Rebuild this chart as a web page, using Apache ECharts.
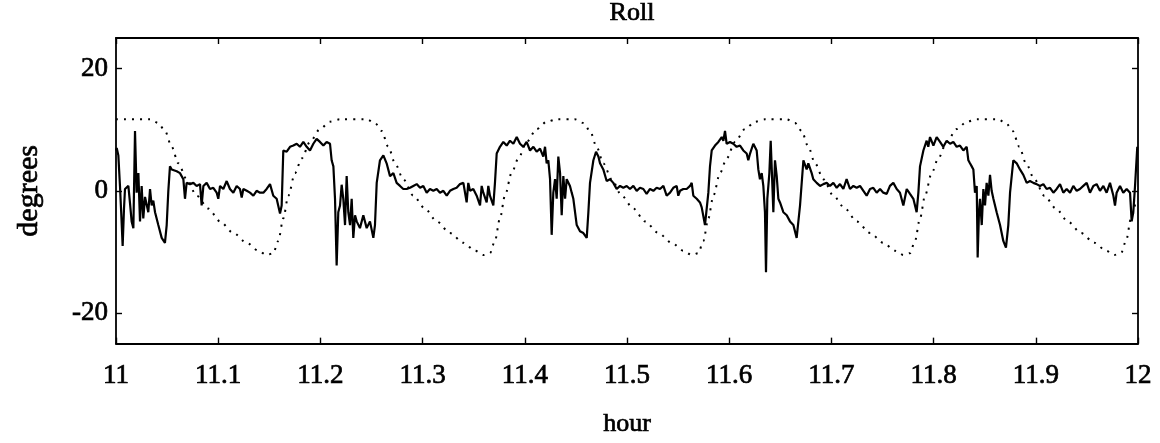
<!DOCTYPE html>
<html>
<head>
<meta charset="utf-8">
<title>Roll</title>
<script src="https://cdn.jsdelivr.net/npm/echarts@6/dist/echarts.min.js"></script>
<style>
  html, body { margin: 0; padding: 0; background: #fff; }
  #chart { width: 1160px; height: 443px; }
</style>
</head>
<body>
<div id="chart"></div>
<script>
// Measured roll angle [hour, degrees]
const rollMeasured = [
  [11.0000,6.6],[11.0007,7.0],[11.0023,5.8],[11.0039,0.8],[11.0052,-4.0],[11.0065,-9.0],[11.0078,-3.0],[11.0088,0.3],
  [11.0104,0.5],[11.0121,0.8],[11.0137,-2.0],[11.0153,-5.0],[11.0170,-6.1],[11.0186,9.8],[11.0202,-0.3],[11.0219,2.9],
  [11.0235,-5.0],[11.0251,0.8],[11.0267,-4.5],[11.0284,-1.0],[11.0300,-1.3],[11.0316,-3.5],[11.0333,0.3],[11.0349,-2.4],
  [11.0365,-1.6],[11.0382,-3.5],[11.0414,-5.6],[11.0447,-7.7],[11.0479,-8.5],[11.0496,-5.6],[11.0512,0.0],[11.0528,4.0],
  [11.0545,3.5],[11.0561,3.7],[11.0594,3.2],[11.0626,2.9],[11.0659,1.9],[11.0675,-1.3],[11.0691,1.3],[11.0724,1.1],
  [11.0757,1.3],[11.0789,0.8],[11.0822,1.1],[11.0838,-2.4],[11.0855,0.8],[11.0887,1.3],[11.0920,0.3],[11.0952,0.5],
  [11.0985,-0.3],[11.1001,-1.3],[11.1018,0.8],[11.1050,0.3],[11.1083,1.6],[11.1115,0.3],[11.1148,-0.3],[11.1181,0.8],
  [11.1213,0.3],[11.1230,-1.1],[11.1246,0.3],[11.1279,0.0],[11.1311,-0.3],[11.1344,-0.8],[11.1376,0.0],[11.1409,-0.3],
  [11.1442,-0.3],[11.1474,0.3],[11.1507,1.1],[11.1539,-0.8],[11.1572,-1.3],[11.1605,-3.7],[11.1621,-2.4],[11.1637,6.6],
  [11.1670,6.4],[11.1703,7.2],[11.1735,7.4],[11.1768,7.7],[11.1800,7.2],[11.1833,8.0],[11.1866,7.2],[11.1898,6.6],
  [11.1931,7.7],[11.1963,8.5],[11.1996,8.0],[11.2029,7.4],[11.2061,8.0],[11.2094,7.7],[11.2110,5.0],[11.2127,4.0],
  [11.2143,-1.3],[11.2159,-12.2],[11.2175,-3.5],[11.2192,-2.4],[11.2208,1.0],[11.2224,-1.3],[11.2241,-5.6],[11.2257,2.4],
  [11.2273,-3.5],[11.2290,-5.6],[11.2306,-1.3],[11.2322,-7.7],[11.2339,-4.0],[11.2355,-5.0],[11.2387,-6.1],[11.2420,-4.0],
  [11.2453,-6.1],[11.2485,-5.0],[11.2518,-7.7],[11.2534,-5.6],[11.2551,1.3],[11.2583,5.0],[11.2616,5.8],[11.2648,4.5],
  [11.2681,2.4],[11.2714,2.9],[11.2746,1.3],[11.2779,0.8],[11.2811,0.3],[11.2844,0.3],[11.2877,0.5],[11.2909,0.8],
  [11.2942,1.1],[11.2975,0.5],[11.3007,0.8],[11.3040,-0.3],[11.3072,0.3],[11.3105,0.0],[11.3138,0.3],[11.3170,-0.3],
  [11.3203,0.0],[11.3236,-0.8],[11.3268,0.0],[11.3301,0.3],[11.3333,0.5],[11.3366,1.1],[11.3399,1.3],[11.3431,-1.9],
  [11.3447,1.3],[11.3464,0.0],[11.3496,0.3],[11.3529,-0.8],[11.3562,-2.4],[11.3578,0.8],[11.3594,-0.3],[11.3627,-1.9],
  [11.3643,0.8],[11.3659,-0.8],[11.3692,-2.4],[11.3708,1.3],[11.3725,6.1],[11.3757,7.2],[11.3790,8.0],[11.3823,7.4],
  [11.3855,8.2],[11.3888,7.7],[11.3921,8.8],[11.3953,7.7],[11.3986,7.2],[11.4018,8.0],[11.4051,6.6],[11.4084,7.2],
  [11.4116,6.4],[11.4149,6.9],[11.4181,5.6],[11.4198,7.2],[11.4214,4.5],[11.4230,5.0],[11.4247,1.9],[11.4263,-7.2],
  [11.4279,-0.3],[11.4296,1.9],[11.4312,-1.3],[11.4328,5.6],[11.4345,2.9],[11.4361,-4.0],[11.4377,2.4],[11.4394,-1.3],
  [11.4410,1.9],[11.4442,0.8],[11.4459,-0.3],[11.4475,-1.3],[11.4508,-5.6],[11.4540,-6.6],[11.4573,-6.9],[11.4606,-7.7],
  [11.4622,-3.5],[11.4638,1.3],[11.4671,5.0],[11.4697,6.4],[11.4720,5.6],[11.4736,4.5],[11.4768,3.5],[11.4801,1.6],
  [11.4834,1.9],[11.4866,1.3],[11.4899,0.3],[11.4932,0.8],[11.4964,0.5],[11.4997,0.8],[11.5029,0.3],[11.5062,0.8],
  [11.5095,0.0],[11.5127,0.5],[11.5160,0.3],[11.5192,-0.5],[11.5225,0.3],[11.5258,0.0],[11.5290,0.5],[11.5323,0.3],
  [11.5356,0.8],[11.5388,-0.8],[11.5421,-0.3],[11.5453,0.5],[11.5486,0.8],[11.5502,-0.8],[11.5519,0.0],[11.5551,0.3],
  [11.5584,0.3],[11.5617,0.8],[11.5633,1.3],[11.5649,-0.8],[11.5682,-1.3],[11.5714,-1.9],[11.5731,-2.7],[11.5747,-2.4],
  [11.5763,-5.6],[11.5780,-5.8],[11.5796,-0.3],[11.5812,4.0],[11.5829,6.6],[11.5861,7.4],[11.5894,8.0],[11.5927,8.8],
  [11.5943,8.2],[11.5959,9.8],[11.5975,7.7],[11.6008,8.0],[11.6040,7.7],[11.6073,7.2],[11.6106,7.4],[11.6138,6.6],
  [11.6171,6.1],[11.6187,5.0],[11.6204,6.1],[11.6236,7.7],[11.6269,6.6],[11.6285,3.5],[11.6301,1.9],[11.6318,2.9],
  [11.6334,0.8],[11.6350,-3.5],[11.6360,-13.3],[11.6373,-1.3],[11.6393,2.9],[11.6406,8.2],[11.6419,2.4],[11.6432,-3.5],
  [11.6448,5.0],[11.6465,2.4],[11.6481,-1.3],[11.6497,-1.9],[11.6530,-3.5],[11.6563,-4.0],[11.6595,-5.0],[11.6628,-5.6],
  [11.6660,-7.7],[11.6693,-2.4],[11.6726,5.0],[11.6758,3.5],[11.6774,4.5],[11.6807,2.9],[11.6823,1.9],[11.6856,1.3],
  [11.6889,0.8],[11.6921,1.1],[11.6954,1.3],[11.6986,0.8],[11.7019,1.3],[11.7052,0.5],[11.7084,1.1],[11.7117,0.3],
  [11.7149,1.9],[11.7182,0.3],[11.7215,0.8],[11.7247,0.5],[11.7280,0.8],[11.7313,0.0],[11.7345,-0.8],[11.7378,0.3],
  [11.7410,0.5],[11.7443,-0.3],[11.7476,0.3],[11.7508,-0.3],[11.7541,-0.5],[11.7573,0.8],[11.7606,1.3],[11.7639,0.3],
  [11.7671,-0.3],[11.7704,-2.4],[11.7737,0.3],[11.7769,-0.5],[11.7802,-1.3],[11.7834,-3.5],[11.7851,-0.3],[11.7867,4.0],
  [11.7900,6.6],[11.7932,8.2],[11.7948,7.2],[11.7965,8.8],[11.7998,7.4],[11.8030,8.8],[11.8063,8.0],[11.8095,7.2],
  [11.8128,8.2],[11.8161,7.7],[11.8193,8.0],[11.8226,7.2],[11.8258,7.4],[11.8291,6.6],[11.8324,7.2],[11.8340,5.0],
  [11.8356,4.5],[11.8373,4.0],[11.8389,3.5],[11.8405,-0.3],[11.8422,0.8],[11.8431,-10.9],[11.8444,-3.5],[11.8454,-1.3],
  [11.8471,-5.6],[11.8487,0.3],[11.8503,-2.4],[11.8519,1.3],[11.8536,-0.8],[11.8552,2.6],[11.8568,0.0],[11.8585,-1.3],
  [11.8617,-3.5],[11.8650,-5.6],[11.8682,-8.2],[11.8708,-9.3],[11.8731,-5.6],[11.8748,-0.3],[11.8780,5.0],[11.8813,4.5],
  [11.8845,3.5],[11.8878,2.6],[11.8911,1.3],[11.8943,1.6],[11.8976,1.3],[11.9008,1.1],[11.9041,0.8],[11.9074,1.1],
  [11.9106,0.3],[11.9139,0.5],[11.9172,-0.3],[11.9204,0.3],[11.9237,1.1],[11.9269,-0.3],[11.9302,0.3],[11.9335,-0.3],
  [11.9367,0.8],[11.9400,0.0],[11.9432,0.3],[11.9465,0.8],[11.9498,1.3],[11.9530,-0.3],[11.9563,0.8],[11.9595,1.1],
  [11.9628,0.0],[11.9661,0.8],[11.9693,-0.3],[11.9726,1.3],[11.9759,-0.8],[11.9775,-2.4],[11.9791,-0.3],[11.9824,0.8],
  [11.9856,-0.3],[11.9889,0.3],[11.9922,-0.3],[11.9938,-5.0],[11.9954,-3.5],[11.9971,0.8],[11.9993,7.2]
];

// Commanded roll angle [hour, degrees]
const rollCommand = [
  [11.0000,11.7],[11.0333,11.7],[11.0414,11.1],[11.0479,9.8],[11.0545,7.2],[11.0610,4.5],[11.0691,1.9],[11.0789,-0.8],
  [11.0903,-2.9],[11.1018,-5.0],[11.1148,-6.9],[11.1279,-8.5],[11.1393,-9.8],[11.1474,-10.5],[11.1539,-10.2],[11.1588,-8.2],
  [11.1637,-4.5],[11.1686,-0.8],[11.1751,2.9],[11.1817,5.3],[11.1898,8.0],[11.1996,10.1],[11.2094,11.3],[11.2192,11.7],
  [11.2453,11.7],[11.2534,11.1],[11.2599,9.8],[11.2665,7.2],[11.2730,4.5],[11.2811,1.9],[11.2909,-0.8],[11.3023,-2.9],
  [11.3138,-5.0],[11.3268,-6.9],[11.3399,-8.5],[11.3513,-9.8],[11.3594,-10.5],[11.3659,-10.2],[11.3708,-8.2],[11.3757,-4.5],
  [11.3806,-0.8],[11.3871,2.9],[11.3937,5.3],[11.4018,8.0],[11.4116,10.1],[11.4214,11.3],[11.4312,11.7],
  [11.4491,11.7],[11.4573,11.1],[11.4638,9.8],[11.4703,7.2],[11.4768,4.5],[11.4850,1.9],[11.4948,-0.8],[11.5062,-2.9],
  [11.5176,-5.0],[11.5307,-6.9],[11.5437,-8.5],[11.5551,-9.8],[11.5633,-10.5],[11.5698,-10.2],[11.5747,-8.2],[11.5796,-4.5],
  [11.5845,-0.8],[11.5910,2.9],[11.5975,5.3],[11.6057,8.0],[11.6155,10.1],[11.6252,11.3],[11.6350,11.7],
  [11.6562,11.7],[11.6644,11.1],[11.6709,9.8],[11.6774,7.2],[11.6840,4.5],[11.6921,1.9],[11.7019,-0.8],[11.7133,-2.9],
  [11.7247,-5.0],[11.7378,-6.9],[11.7508,-8.5],[11.7622,-9.8],[11.7704,-10.5],[11.7769,-10.2],[11.7818,-8.2],[11.7867,-4.5],
  [11.7916,-0.8],[11.7981,2.9],[11.8046,5.3],[11.8128,8.0],[11.8226,10.1],[11.8324,11.3],[11.8421,11.7],
  [11.8627,11.7],[11.8708,11.1],[11.8774,9.8],[11.8839,7.2],[11.8904,4.5],[11.8986,1.9],[11.9084,-0.8],[11.9198,-2.9],
  [11.9312,-5.0],[11.9442,-6.9],[11.9573,-8.5],[11.9687,-9.8],[11.9768,-10.5],[11.9834,-10.2],[11.9883,-8.2],[11.9932,-4.5],
  [11.9980,-1.5]
];

const hourRange = [11, 12];
const hourStep = 0.1;
const degreeRange = [-25, 25];
const degreeTicks = [-20, 0, 20];

const FONT = 'Liberation Serif';
const INK = '#000';
// a thin outline gives the glyphs the heavier printed look
const inkText = { fontFamily: FONT, fontWeight: 'normal', color: INK, textBorderColor: INK, textBorderWidth: 0.7 };

const baseX = {
  type: 'value',
  min: hourRange[0],
  max: hourRange[1],
  interval: hourStep,
  splitLine: { show: false },
  axisLine: { show: true, onZero: false, lineStyle: { color: INK, width: 1.8 } },
  axisTick: { show: true, inside: true, length: 6, lineStyle: { color: INK, width: 1.4 } }
};
const baseY = {
  type: 'value',
  min: degreeRange[0],
  max: degreeRange[1],
  splitLine: { show: false },
  axisLine: { show: true, onZero: false, lineStyle: { color: INK, width: 1.8 } },
  axisTick: { show: true, inside: true, length: 6, customValues: degreeTicks, lineStyle: { color: INK, width: 1.4 } }
};

const chart = echarts.init(document.getElementById('chart'), null, { renderer: 'canvas' });
chart.setOption({
  animation: false,
  backgroundColor: '#fff',
  title: {
    text: 'Roll',
    left: 627,
    top: -5,
    textAlign: 'center',
    textStyle: Object.assign({ fontSize: 26 }, inkText)
  },
  grid: { left: 116, right: 22, top: 38, bottom: 89 },
  xAxis: [
    Object.assign({}, baseX, {
      position: 'bottom',
      name: 'hour',
      nameLocation: 'middle',
      nameGap: 68,
      nameTextStyle: Object.assign({ fontSize: 26 }, inkText),
      axisLabel: Object.assign({
        margin: 19,
        fontSize: 27,
        formatter: v => String(Math.round(v * 10) / 10)
      }, inkText)
    }),
    Object.assign({}, baseX, { position: 'top', axisLabel: { show: false } })
  ],
  yAxis: [
    Object.assign({}, baseY, {
      position: 'left',
      name: 'degrees',
      nameLocation: 'middle',
      nameRotate: 90,
      nameGap: 72,
      nameTextStyle: Object.assign({ fontSize: 30 }, inkText),
      axisLabel: Object.assign({
        margin: 8,
        customValues: degreeTicks,
        fontSize: 27
      }, inkText)
    }),
    Object.assign({}, baseY, { position: 'right', axisLabel: { show: false } })
  ],
  series: [
    {
      name: 'command',
      type: 'line',
      data: rollCommand,
      showSymbol: false,
      smooth: 0.3,
      smoothMonotone: 'x',
      lineStyle: { color: INK, width: 2, type: [2, 6] },
      z: 2
    },
    {
      name: 'measured',
      type: 'line',
      data: rollMeasured,
      showSymbol: false,
      lineStyle: { color: INK, width: 2.2 },
      z: 3
    }
  ]
});
</script>
</body>
</html>
